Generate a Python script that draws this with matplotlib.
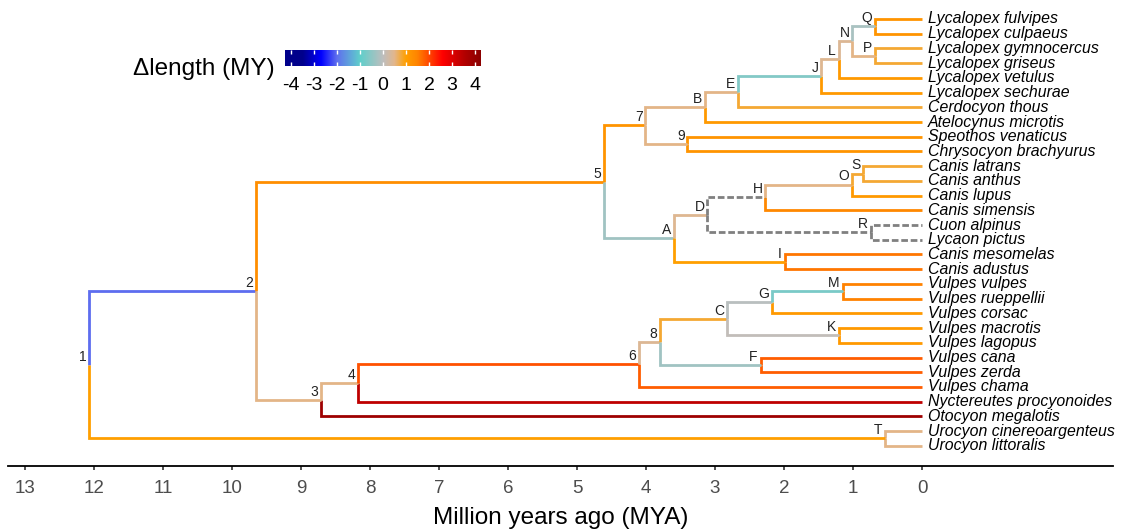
import numpy as np
import matplotlib
matplotlib.use('Agg')
import matplotlib.pyplot as plt
from matplotlib.colors import LinearSegmentedColormap, Normalize

plt.rcParams['font.family'] = ['Liberation Sans', 'DejaVu Sans']

# ===== TREE DATA =====
# tips, top to bottom, with their parent node and the delta of their branch (None = not estimated)
tip_names = [
    'Lycalopex fulvipes', 'Lycalopex culpaeus', 'Lycalopex gymnocercus', 'Lycalopex griseus',
    'Lycalopex vetulus', 'Lycalopex sechurae', 'Cerdocyon thous', 'Atelocynus microtis',
    'Speothos venaticus', 'Chrysocyon brachyurus', 'Canis latrans', 'Canis anthus',
    'Canis lupus', 'Canis simensis', 'Cuon alpinus', 'Lycaon pictus',
    'Canis mesomelas', 'Canis adustus', 'Vulpes vulpes', 'Vulpes rueppellii',
    'Vulpes corsac', 'Vulpes macrotis', 'Vulpes lagopus', 'Vulpes cana',
    'Vulpes zerda', 'Vulpes chama', 'Nyctereutes procyonoides', 'Otocyon megalotis',
    'Urocyon cinereoargenteus', 'Urocyon littoralis',
]
tip_parents = [
    'Q', 'Q', 'P', 'P', 'L', 'J', 'E', 'B', '9', '9', 'S', 'S', 'O', 'H', 'R', 'R',
    'I', 'I', 'M', 'M', 'G', 'K', 'K', 'F', 'F', '6', '4', '3', 'T', 'T',
]
tip_delta = [
    1.2, 1.2, 0.8, 0.8, 1.1, 1.1, 0.8, 1.1, 1.2, 1.2, 0.8, 0.8, 1.1, 1.4, None, None,
    1.6, 1.6, 1.5, 1.5, 1.1, 1.1, 1.1, 1.8, 1.8, 1.8, 3.4, 3.9, 0.5, 0.5,
]

# internal nodes: label, age (MYA), parent and delta of the stem branch
node_names = ['1', '2', 'T', '5', '3', '4', '6', '7', 'A', 'B', '9', 'E', 'J', 'L', 'N',
              'Q', 'P', 'D', 'H', 'O', 'S', 'R', 'I', '8', 'C', 'F', 'G', 'K', 'M']
node_ages = [12.07, 9.65, 0.53, 4.61, 8.71, 8.17, 4.10, 4.01, 3.59, 3.14, 3.40, 2.67, 1.46, 1.21, 1.01,
             0.68, 0.68, 3.11, 2.27, 1.02, 0.85, 0.74, 1.99, 3.80, 2.83, 2.34, 2.18, 1.20, 1.15]
node_parents = [None, '1', '1', '2', '2', '3', '4', '5', '5', '7', '7', 'B', 'E', 'J', 'L',
                'N', 'N', 'A', 'D', 'H', 'O', 'D', 'A', '6', '8', '8', 'C', 'C', 'G']
node_delta = [None, -2.0, 1.0, 1.3, 0.5, 0.5, 1.9, 1.2, -0.3, 0.5, 0.5, 0.5, -0.6, 0.45, 0.4,
              -0.2, 0.5, 0.45, None, 0.5, 0.8, None, 1.0, 0.4, 0.8, -0.3, -0.05, 0.05, -0.7]

# colour scale for delta length
scale_lim = 4.26
scale_ticks = [-4, -3, -2, -1, 0, 1, 2, 3, 4]
# ===== TREE DATA =====

stops = [(-4.26, '#00008B'), (-3.5, '#00008B'), (-2.7, '#0000FF'), (-2.0, '#6070EE'),
         (-1.0, '#5FCFCB'), (0.0, '#BEBEBE'), (0.5, '#E2B68C'), (1.0, '#FFA000'),
         (1.5, '#FF8400'), (2.6, '#FF0000'), (3.6, '#B00000'), (4.26, '#8B0000')]
cmap = LinearSegmentedColormap.from_list(
    'dlen', [((v + scale_lim) / (2 * scale_lim), c) for v, c in stops])
norm = Normalize(-scale_lim, scale_lim)

# layout: tips at integer rows, internal nodes at the mean of their children
children = {n: [] for n in node_names}
for t, p in zip(tip_names, tip_parents):
    children[p].append(t)
for n, p in zip(node_names, node_parents):
    if p is not None:
        children[p].append(n)

ypos = {t: i + 1 for i, t in enumerate(tip_names)}
xpos = {t: 0.0 for t in tip_names}
for n, a in zip(node_names, node_ages):
    xpos[n] = -a


def node_y(n):
    if n not in ypos:
        ypos[n] = np.mean([node_y(c) for c in children[n]])
    return ypos[n]


for n in node_names:
    node_y(n)

fig = plt.figure(figsize=(11.26, 5.29), dpi=100)
ax = fig.add_axes([8 / 1126, 63 / 529, 1105 / 1126, 466 / 529])

edges = zip(tip_names + node_names, tip_parents + node_parents, tip_delta + node_delta)
for child, parent, d in edges:
    if parent is None:
        continue
    xs = [xpos[parent], xpos[parent], xpos[child]]
    ys = [ypos[parent], ypos[child], ypos[child]]
    if d is None:
        ax.plot(xs, ys, color='#808080', lw=2.0, ls=(0, (2.4, 1.0)),
                solid_joinstyle='miter', dash_capstyle='butt')
    else:
        ax.plot(xs, ys, color=cmap(norm(d)), lw=2.0,
                solid_joinstyle='miter', solid_capstyle='butt')

for n in node_names:
    ax.annotate(n, (xpos[n], ypos[n]), xytext=(-2, 0.8), textcoords='offset points',
                ha='right', va='bottom', fontsize=10, color='#222222')

for t in tip_names:
    ax.annotate(t, (0, ypos[t]), xytext=(4.5, 0), textcoords='offset points',
                ha='left', va='center', fontsize=11.4, fontstyle='italic',
                annotation_clip=False)

ax.set_xlim(-13.246, 2.768)
ax.set_ylim(31.37, -0.29)
ax.set_xticks(range(-13, 1))
ax.set_xticklabels([str(-v) for v in range(-13, 1)])
ax.tick_params(axis='x', labelsize=13.5, labelcolor='#4D4D4D', color='#333333',
               length=3, width=1.2, pad=7)
ax.set_yticks([])
for s in ['top', 'right', 'left']:
    ax.spines[s].set_visible(False)
ax.spines['bottom'].set_linewidth(1.3)
ax.set_xlabel('Million years ago (MYA)', fontsize=17.5, labelpad=7)

# colour bar legend
cax = fig.add_axes([285 / 1126, (529 - 66) / 529, 196 / 1126, 16 / 529])
grad = np.linspace(-scale_lim, scale_lim, 512)
cax.imshow(grad[None, :], aspect='auto', cmap=cmap, norm=norm,
           extent=[-scale_lim, scale_lim, 0, 1])
cax.set_xticks(scale_ticks)
cax.set_xticklabels([str(v) for v in scale_ticks])
cax.set_yticks([])
cax.tick_params(axis='x', direction='in', color='white', labelcolor='black',
                length=3, width=1, top=True, bottom=True, labelsize=14, pad=8)
for s in cax.spines.values():
    s.set_visible(False)
fig.text(275 / 1126, 1 - 69 / 529, '\u0394length (MY)', ha='right', va='center', fontsize=17.5)

fig.savefig('out.png', dpi=100)
